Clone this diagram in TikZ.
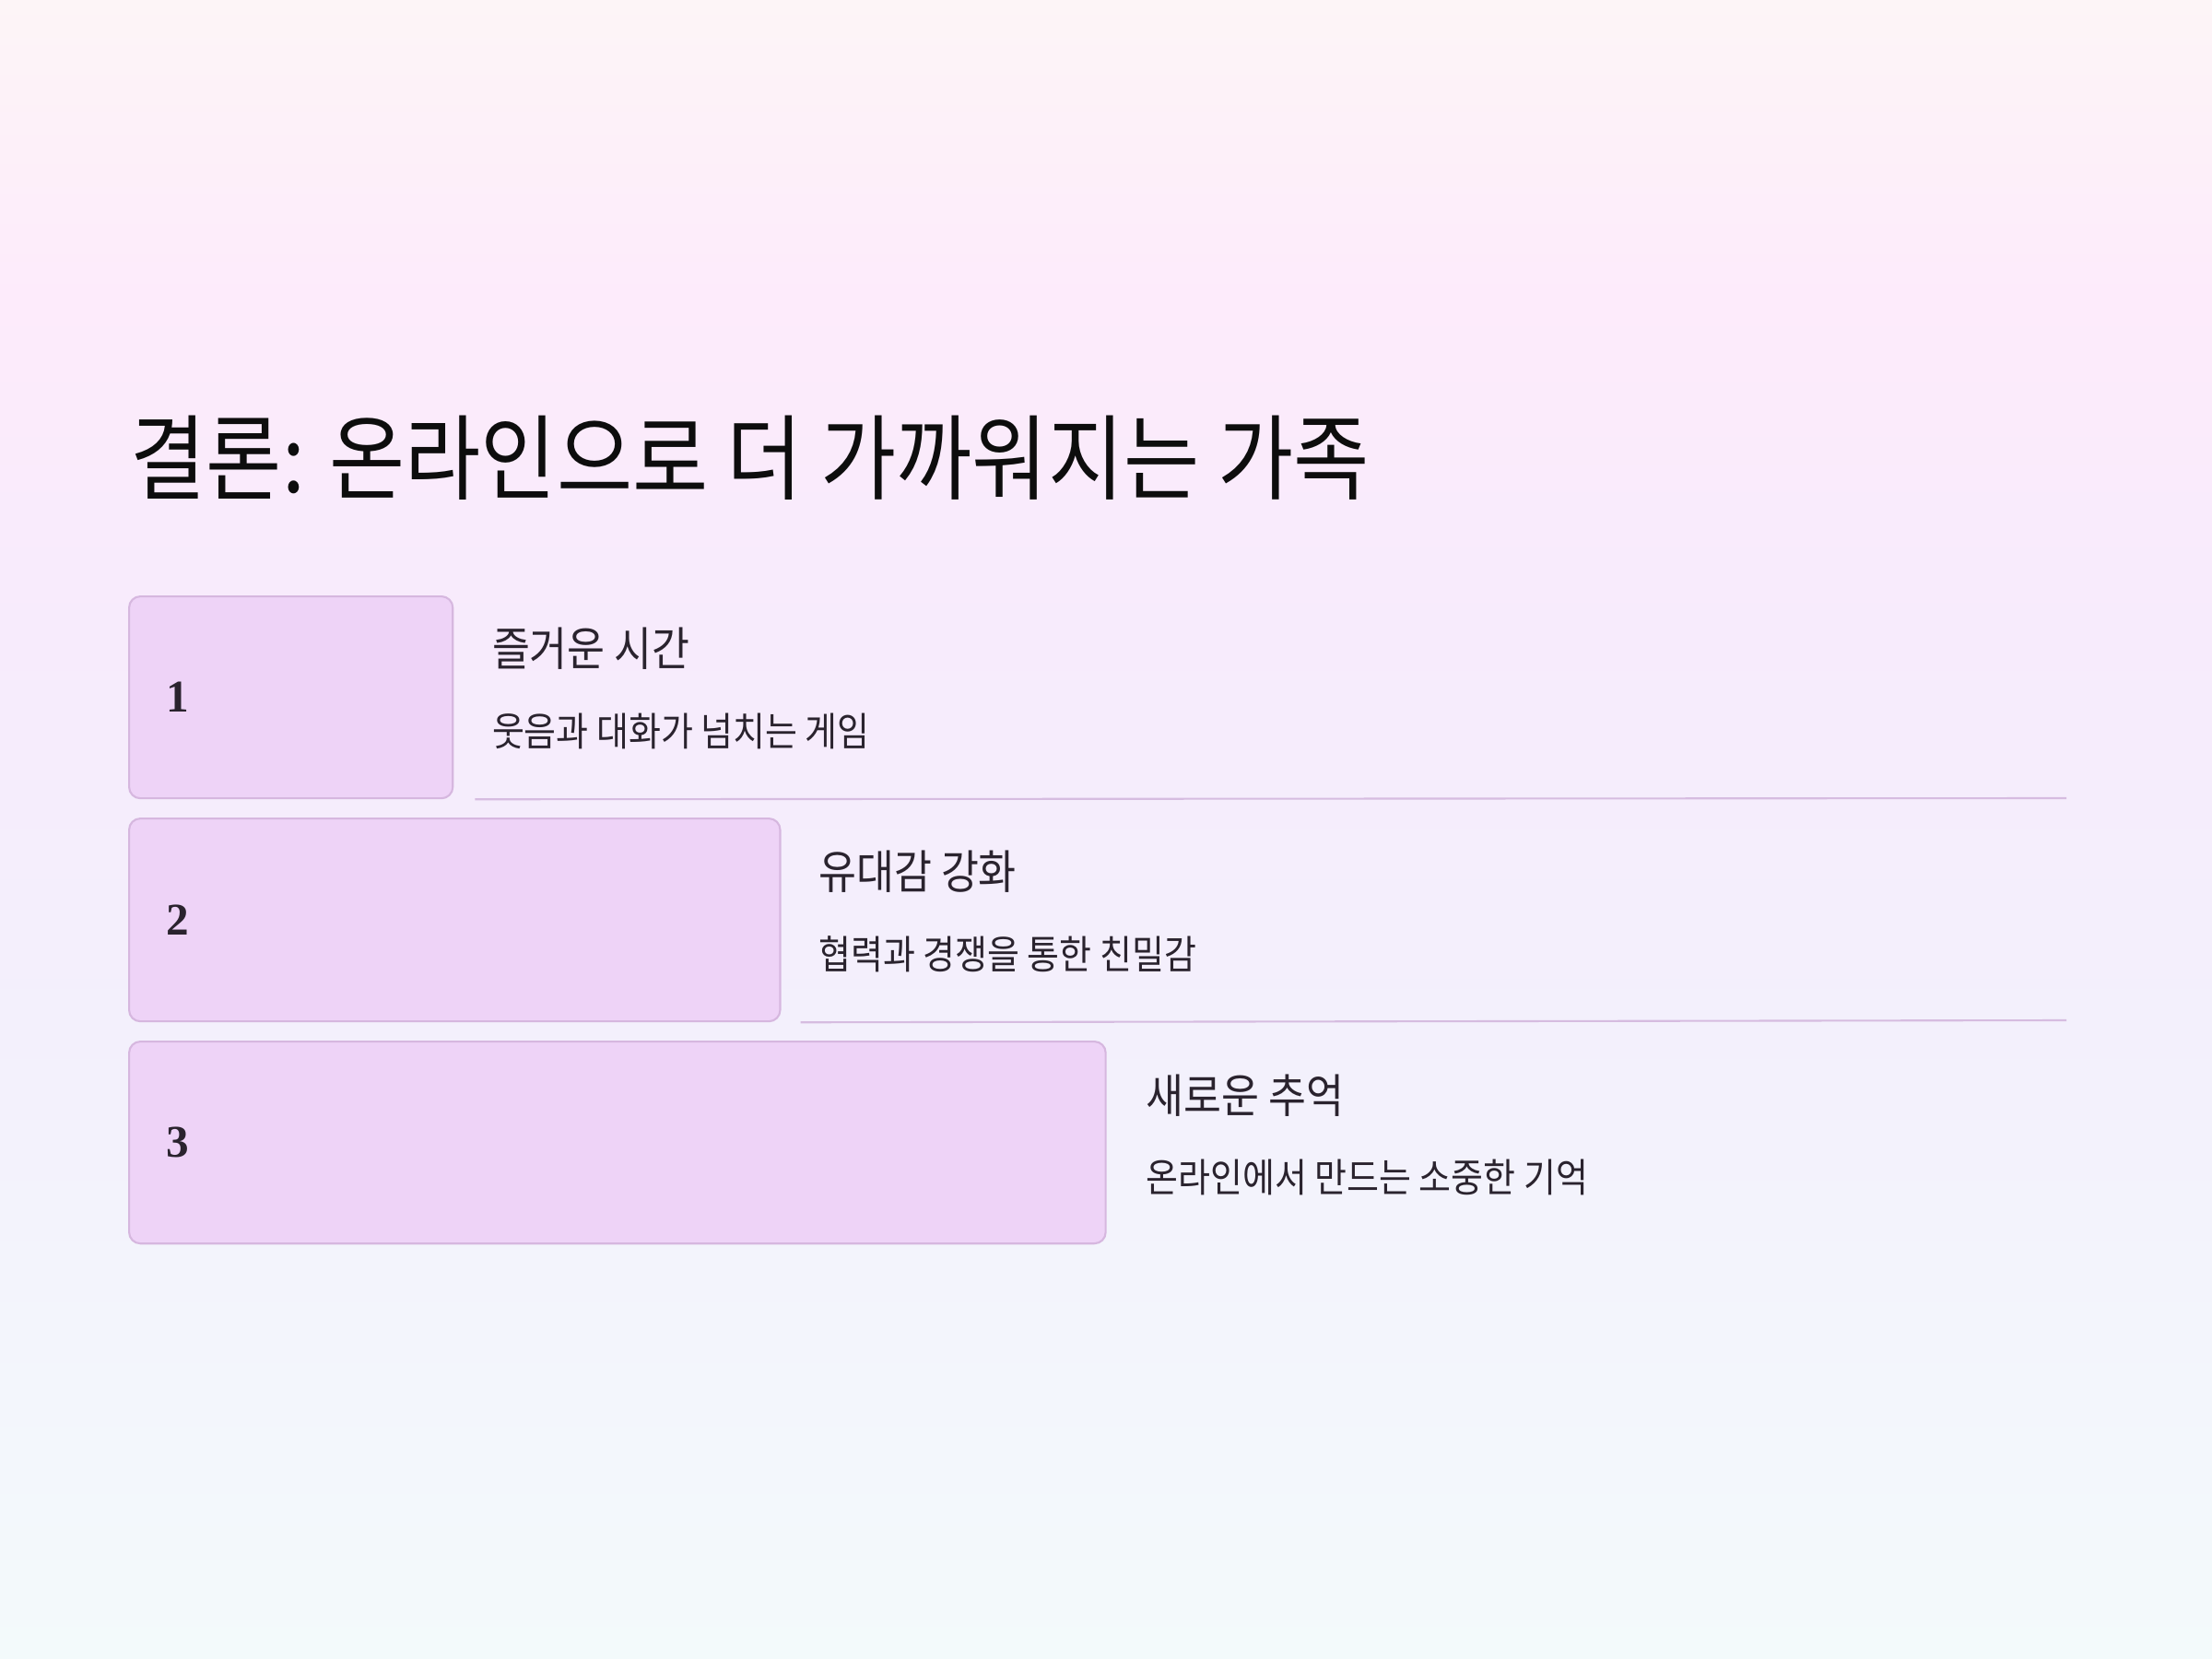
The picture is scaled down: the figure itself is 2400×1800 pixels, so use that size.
\documentclass[tikz,border=0pt]{standalone}
\usepackage{fontspec}
\setmainfont{Noto Sans CJK KR}[FakeStretch=0.885]
\newfontfamily\numfont{Liberation Serif}
\usetikzlibrary{positioning,calc}

\definecolor{bgtop}{HTML}{FDF5F7}
\definecolor{bgpink}{HTML}{FDEBFB}
\definecolor{bglav}{HTML}{F7EBFC}
\definecolor{bgmid}{HTML}{F3F0FC}
\definecolor{bglow}{HTML}{F3F6FC}
\definecolor{bgbot}{HTML}{F3FAFB}
\definecolor{boxfill}{HTML}{EED3F7}
\definecolor{boxline}{HTML}{D6B7DF}
\definecolor{rulecol}{HTML}{D6BCE0}
\definecolor{ink}{HTML}{2A232E}

\pgfdeclareverticalshading{bgshade}{100bp}{color(0bp)=(bgbot); color(25bp)=(bgbot);
  color(33bp)=(bglow); color(44bp)=(bgmid); color(56bp)=(bglav);
  color(66bp)=(bgpink); color(75bp)=(bgtop); color(100bp)=(bgtop)}

\tikzset{
    stepbox/.style={draw=boxline, fill=boxfill, line width=0.6pt,
        rounded corners=3.5pt, anchor=north west, inner sep=0pt},
    stepnum/.style={font=\numfont\bfseries\fontsize{14}{16}\selectfont,
        text=ink, inner sep=0pt, anchor=west},
    head/.style={font=\fontsize{14.3}{16}\selectfont, text=ink,
        inner sep=0pt, anchor=west},
    sub/.style={font=\fontsize{12.2}{14}\selectfont, text=ink,
        inner sep=0pt, anchor=west},
    rule/.style={draw=rulecol, line width=0.6pt}
}

\begin{document}
\begin{tikzpicture}[x=0.01cm, y=-0.01cm]
\useasboundingbox (0,0) rectangle (2400,1800);
\shade[shading=bgshade] (0,0) rectangle (2400,1800);

\node[font=\fontsize{28.7}{32}\selectfont, text=black!95, inner sep=0pt,
    anchor=west] (title) at (141,497) {결론: 온라인으로 더 가까워지는 가족};

% steps
\node[stepbox, minimum width=3.51cm, minimum height=2.19cm] (box1) at (139,646) {};
\node[stepbox, minimum width=7.06cm, minimum height=2.20cm] (box2) at (139,887) {};
\node[stepbox, minimum width=10.59cm, minimum height=2.19cm] (box3) at (139,1129) {};

\node[stepnum, right=0.41cm of box1.west] (num1) {1};
\node[stepnum, right=0.41cm of box2.west] (num2) {2};
\node[stepnum, right=0.41cm of box3.west] (num3) {3};

\node[head] (head1) at ($(box1.north east)+(41,58)$) {즐거운 시간};
\node[sub] (sub1) at ($(box1.north east)+(41,147)$) {웃음과 대화가 넘치는 게임};
\node[head] (head2) at ($(box2.north east)+(40,59)$) {유대감 강화};
\node[sub] (sub2) at ($(box2.north east)+(40,148)$) {협력과 경쟁을 통한 친밀감};
\node[head] (head3) at ($(box3.north east)+(42,60)$) {새로운 추억};
\node[sub] (sub3) at ($(box3.north east)+(42,148)$) {온라인에서 만드는 소중한 기억};

% separators
\coordinate (end1) at (2242,866);
\coordinate (end2) at (2242,1107);
\draw[rule] ($(box1.south east)+(23,0)$) -- (end1);
\draw[rule] ($(box2.south east)+(21,0)$) -- (end2);
\end{tikzpicture}
\end{document}
